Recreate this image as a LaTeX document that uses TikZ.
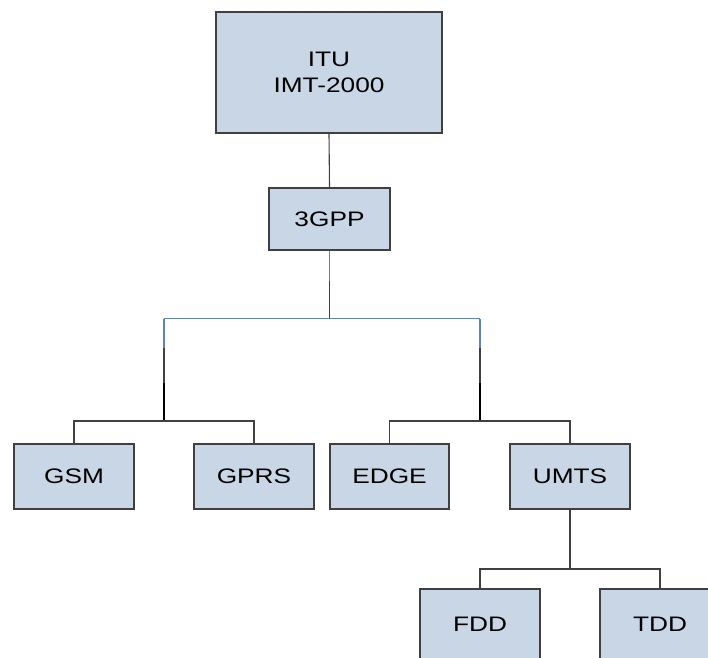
\documentclass[tikz,border=0pt]{standalone}
\usepackage{fontspec}
\setmainfont{Liberation Sans}
\usepackage{graphicx}
\definecolor{boxfill}{HTML}{C9D6E5}
\definecolor{boxdraw}{HTML}{404040}
\definecolor{lineg}{HTML}{404040}
\definecolor{lblue}{HTML}{5F82BA}
\definecolor{dblue}{HTML}{1A4585}
\newcommand{\wtxt}[1]{\scalebox{1.25}[1]{#1}}
\tikzset{
  orgbox/.style={draw=boxdraw, line width=1.3pt, fill=boxfill, rectangle, inner sep=0pt,
    font=\fontsize{21}{26}\selectfont, align=center},
  lbl/.style={font=\fontsize{21}{26}\selectfont},
  conn/.style={draw=lineg, line width=1.1pt},
  lbconn/.style={draw=lblue, line width=1.2pt},
  dbconn/.style={draw=dblue, line width=1.8pt},
  thick/.style={draw=black, line width=2.2pt},
}
\begin{document}
\begin{tikzpicture}[x=1pt,y=-1pt]
\useasboundingbox (0,0) rectangle (708,657);
\clip (0,0) rectangle (708,657);
% boxes
\node[orgbox, minimum width=226pt, minimum height=121pt] (itu) at (329,72.5) {\wtxt{ITU}\\\wtxt{IMT-2000}};
\node[orgbox, minimum width=121pt, minimum height=62pt] (tgpp) at (329.5,219) {\wtxt{3GPP}};
\node[orgbox, minimum width=120pt, minimum height=65pt] (gsm) at (74,476.5) {\wtxt{GSM}};
\node[orgbox, minimum width=120pt, minimum height=65pt] (gprs) at (254,476.5) {\wtxt{GPRS}};
\node[orgbox, minimum width=119pt, minimum height=65pt] (edge) at (389.5,476.5) {\wtxt{EDGE}};
\node[orgbox, minimum width=120pt, minimum height=65pt] (umts) at (570,476.5) {\wtxt{UMTS}};
\node[orgbox, minimum width=120pt, minimum height=90pt] (fdd) at (480,634) {};
\node[orgbox, minimum width=120pt, minimum height=90pt] (tdd) at (660,634) {};
\node[lbl] (fddt) at (480,624.5) {\wtxt{FDD}};
\node[lbl] (tddt) at (660,624.5) {\wtxt{TDD}};
% coordinates
\coordinate (a1) at (329.5,281);
\coordinate (a2) at (329.5,318.7);
\coordinate (hl) at (164,318.7);
\coordinate (hr) at (480,318.7);
\coordinate (l1) at (164,348);
\coordinate (l2) at (164,383);
\coordinate (l3) at (164,421);
\coordinate (r1) at (480,348);
\coordinate (r2) at (480,383);
\coordinate (r3) at (480,421);
\coordinate (gl) at (74,421);
\coordinate (gr) at (254,421);
\coordinate (el) at (389.5,421);
\coordinate (er) at (570,421);
\coordinate (u1) at (570,569);
\coordinate (fl) at (480,569);
\coordinate (fr) at (660,569);
% connectors
\draw[conn] (itu.south) -- (tgpp.north);
\draw[lbconn] (tgpp.south) -- (a1);
\draw[dbconn] (a1) -- (a2);
\draw[lbconn] (hl) -- (hr);
\draw[lbconn] (hl) -- (l1);
\draw[conn] (l1) -- (l2);
\draw[thick] (l2) -- (l3);
\draw[lbconn] (hr) -- (r1);
\draw[conn] (r1) -- (r2);
\draw[thick] (r2) -- (r3);
\draw[conn] (gsm.north) -- (gl) -- (gr) -- (gprs.north);
\draw[conn] (edge.north) -- (el) -- (er) -- (umts.north);
\draw[conn] (umts.south) -- (u1);
\draw[conn] (fdd.north) -- (fl) -- (fr) -- (tdd.north);
\end{tikzpicture}
\end{document}
